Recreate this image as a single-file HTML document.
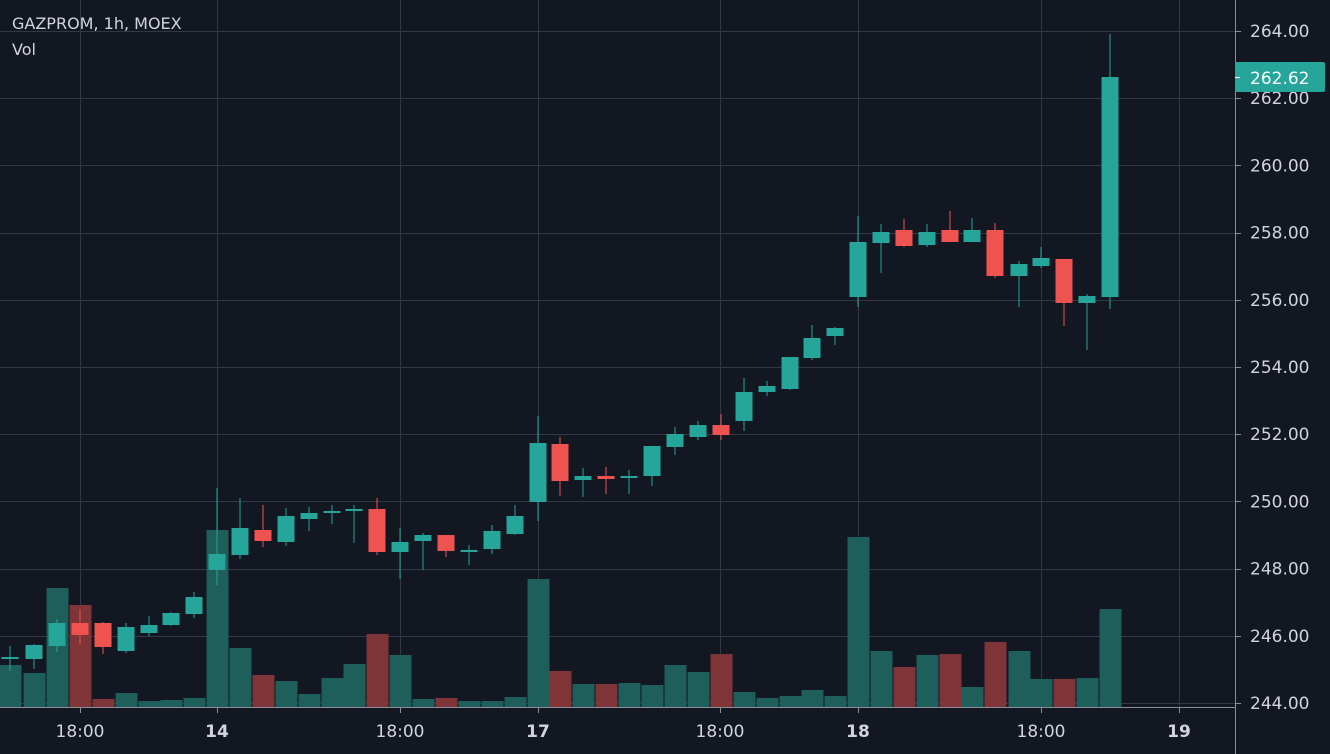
<!DOCTYPE html>
<html><head><meta charset="utf-8"><style>
html,body{margin:0;padding:0;background:#131722;}
svg{display:block;font-family:"DejaVu Sans","Liberation Sans",sans-serif;}
</style></head><body>
<svg id="s" width="1330" height="754" xmlns="http://www.w3.org/2000/svg">
<rect width="1330" height="754" fill="#131722"/>
<g id="grid" stroke="#343844" stroke-width="1"></g>
<g id="vol"></g>
<g id="cand"></g>
<line x1="0" y1="707.5" x2="1235" y2="707.5" stroke="#8a8d96" stroke-width="1"/>
<line x1="1235.5" y1="0" x2="1235.5" y2="754" stroke="#8a8d96" stroke-width="1"/>
<g id="ax" fill="#d1d4dc" font-size="17"></g>
<text x="12" y="29" fill="#d1d4dc" font-size="16">GAZPROM, 1h, MOEX</text>
<text x="12" y="55" fill="#d1d4dc" font-size="16">Vol</text>
<rect x="1235" y="62" width="90" height="30" rx="2" fill="#26a69a"/>
<line x1="1235" y1="77.5" x2="1240" y2="77.5" stroke="#fff"/>
<text x="1250" y="84" fill="#fff" font-size="17">262.62</text>
</svg>
<script>
var NS="http://www.w3.org/2000/svg";
function el(p,t,a,txt){var e=document.createElementNS(NS,t);for(var k in a)e.setAttribute(k,a[k]);if(txt)e.textContent=txt;document.getElementById(p).appendChild(e);}
var prices=["264.00","262.00","260.00","258.00","256.00","254.00","252.00","250.00","248.00","246.00","244.00"];
for(var i=0;i<11;i++){var y=31+i*67.2;
 el("grid","line",{x1:0,x2:1235,y1:Math.round(y)+0.5,y2:Math.round(y)+0.5});
 el("ax","line",{x1:1235,x2:1241,y1:Math.round(y)+0.5,y2:Math.round(y)+0.5,stroke:"#8a8d96"});
 el("ax","text",{x:1250,y:y+6},prices[i]);}
var vx=[[80,"18:00"],[217,"14"],[400,"18:00"],[538,"17"],[720,"18:00"],[858,"18"],[1041,"18:00"],[1179,"19"]];
vx.forEach(function(v){el("grid","line",{x1:v[0]+0.5,x2:v[0]+0.5,y1:0,y2:707});
 el("ax","line",{x1:v[0]+0.5,x2:v[0]+0.5,y1:707,y2:713,stroke:"#8a8d96"});
 el("ax","text",{x:v[0],y:737,"text-anchor":"middle","font-weight":(v[1].length<3?"bold":"normal")},v[1]);});
var C=[
[10,657,658,646,671,1,665],[34,645,659,644,669,1,673],[57,623,646,619,652,1,588],[80,623,635,609,644,0,605],
[103,623,647,622,654,0,699],[126,627,651,623,653,1,693],[149,625,633,616,636,1,701],[171,613,625,612,626,1,700],
[194,597,614,592,618,1,698],[217,554,570,488,585,1,530],[240,528,555,498,559,1,648],[263,530,541,505,547,0,675],
[286,516,542,508,546,1,681],[309,513,519,507,531,1,694],[332,511,513,505,524,1,678],[354,509,511,505,543,1,664],
[377,509,552,498,555,0,634],[400,542,552,528,579,1,655],[423,535,541,533,570,1,699],[446,535,551,535,557,0,698],
[469,550,551,545,565,1,701],[492,531,549,525,554,1,701],[515,516,534,505,535,1,697],[538,443,502,416,521,1,579],
[560,444,481,437,496,0,671],[583,476,480,468,497,1,684],[606,476,479,467,494,0,684],[629,476,478,470,494,1,683],
[652,446,476,446,486,1,685],[675,434,447,427,455,1,665],[698,425,437,421,440,1,672],[721,425,435,414,440,0,654],
[744,392,421,378,431,1,692],[767,386,392,381,396,1,698],[790,357,389,357,390,1,696],[812,338,358,325,360,1,690],
[835,328,336,327,345,1,696],[858,242,297,216,307,1,537],[881,232,243,224,273,1,651],[904,230,246,219,247,0,667],
[927,232,245,224,247,1,655],[950,230,242,211,242,0,654],[972,230,242,218,242,1,687],[995,230,276,223,278,0,642],
[1019,264,276,261,307,1,651],[1041,258,266,247,268,1,679],[1064,259,303,259,326,0,679],[1087,296,303,294,350,1,678],
[1110,77,297,34,309,1,609]];
C.forEach(function(c){
 var col=c[5]?"#26a69a":"#ef5350", vc=c[5]?"#1e5e5b":"#7f3538";
 el("vol","rect",{x:c[0]-10.5,y:c[6],width:22,height:707-c[6],fill:vc});
 el("cand","rect",{x:c[0]-0.5,y:c[3],width:1,height:c[4]-c[3],fill:col});
 el("cand","rect",{x:c[0]-8.5,y:c[1],width:17,height:Math.max(2,c[2]-c[1]),fill:col});
});
</script>
</body></html>
